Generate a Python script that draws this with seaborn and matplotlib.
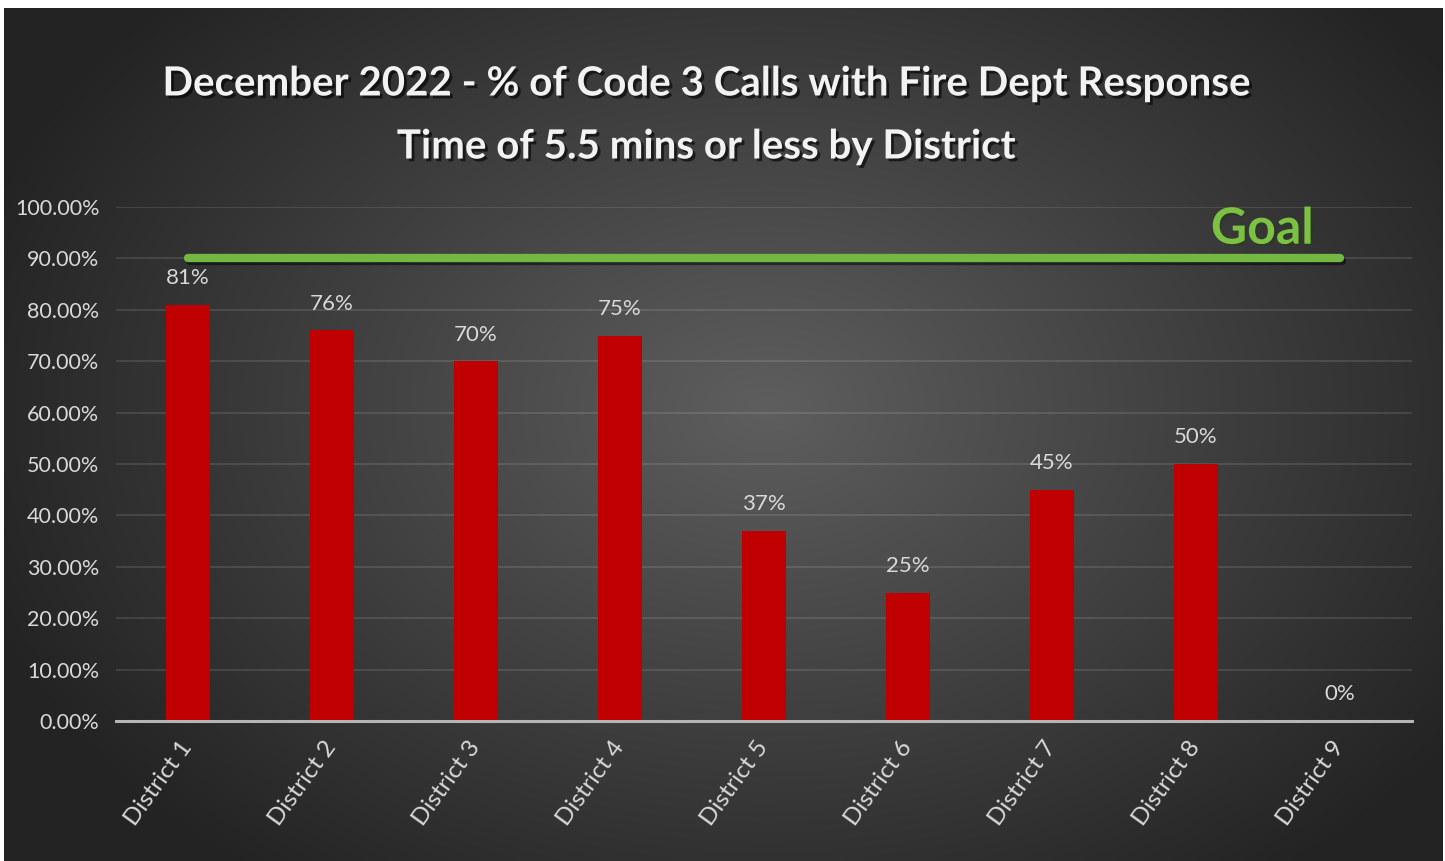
import numpy as np
import pandas as pd
import matplotlib.pyplot as plt
import matplotlib.patheffects as pe
import seaborn as sns

# data
districts = ['District 1', 'District 2', 'District 3', 'District 4', 'District 5',
             'District 6', 'District 7', 'District 8', 'District 9']
pct_within_goal = [81, 76, 70, 75, 37, 25, 45, 50, 0]
bar_labels = ['81%', '76%', '70%', '75%', '37%', '25%', '45%', '50%', '0%']
goal = 90
y_ticks = [0, 10, 20, 30, 40, 50, 60, 70, 80, 90, 100]

title_lines = ['December 2022 - % of Code 3 Calls with Fire Dept Response',
               'Time of 5.5 mins or less by District']

df = pd.DataFrame({'District': districts, 'Pct': pct_within_goal})

sns.set_theme(style='dark')
plt.rcParams['font.family'] = ['Lato', 'DejaVu Sans']

fig = plt.figure(figsize=(14.45, 8.61), dpi=100)
fig.patch.set_facecolor('white')

# radial dark gradient background (thin white margin top/left like the screenshot)
bg = fig.add_axes([4 / 1445, 0, 1438 / 1445, 853 / 861], zorder=-5)
yy, xx = np.mgrid[0:1:300j, 0:1:500j]
r = np.sqrt(((xx - 0.53) / 0.6) ** 2 + ((yy - 0.47) / 0.72) ** 2)
shade = np.clip(0.37 - 0.24 * r, 0.14, 0.37)
bg.imshow(np.dstack([shade, shade, shade]), aspect='auto', extent=[0, 1, 0, 1],
          interpolation='bicubic')
bg.set_axis_off()

ax = fig.add_axes([116 / 1445, 1 - 721 / 861, 1296 / 1445, 514 / 861])
ax.set_facecolor('none')

sns.barplot(data=df, x='District', y='Pct', color='#c00000', width=0.31,
            saturation=1, linewidth=0, edgecolor='none', ax=ax, zorder=3)

ax.set_xlim(-0.5, len(districts) - 0.5)
ax.set_ylim(0, 100)
ax.set_yticks(y_ticks)
ax.set_yticklabels([f'{t:.2f}%' for t in y_ticks])
ax.tick_params(axis='y', length=0, pad=12, labelsize=15.5, labelcolor='#d9d9d9')
ax.tick_params(axis='x', length=0, pad=16, labelsize=17.5, labelcolor='#d9d9d9')
plt.setp(ax.get_xticklabels(), rotation=54, ha='right', va='center', rotation_mode='anchor')
ax.set_xlabel('')
ax.set_ylabel('')

ax.grid(axis='y', color='white', alpha=0.13, linewidth=1.2, zorder=0)
ax.grid(axis='x', visible=False)
for s in ['top', 'right', 'left']:
    ax.spines[s].set_visible(False)
ax.spines['bottom'].set_color('#b5b5b5')
ax.spines['bottom'].set_linewidth(2.2)
ax.spines['bottom'].set_zorder(4)

# value labels
for i, (v, lab) in enumerate(zip(pct_within_goal, bar_labels)):
    ax.annotate(lab, (i, v), xytext=(0, 12), textcoords='offset points',
                ha='center', va='bottom', fontsize=16, color='#d9d9d9')

# goal line
shadow = [pe.SimpleLineShadow(offset=(1.5, -2), shadow_color='black', alpha=0.5), pe.Normal()]
ax.plot([0, len(districts) - 1], [goal, goal], color='#72b843', linewidth=6,
        solid_capstyle='round', zorder=5, path_effects=shadow)
ax.text(len(districts) - 1.54, goal + 1.3, 'Goal', ha='center', va='bottom',
        fontsize=36, fontweight='bold', color='#7cc242', zorder=6,
        path_effects=[pe.withSimplePatchShadow(offset=(1.5, -1.5), alpha=0.4)])

# title
title_fx = [pe.withSimplePatchShadow(offset=(2, -2), shadow_rgbFace='black', alpha=0.6)]
fig.text(706 / 1445, 1 - 84 / 861, title_lines[0], ha='center', va='center',
         fontsize=29, fontweight='bold', color='#f2f2f2', path_effects=title_fx)
fig.text(706 / 1445, 1 - 147 / 861, title_lines[1], ha='center', va='center',
         fontsize=29, fontweight='bold', color='#f2f2f2', path_effects=title_fx)

plt.savefig('out.png', dpi=100)
plt.close()
